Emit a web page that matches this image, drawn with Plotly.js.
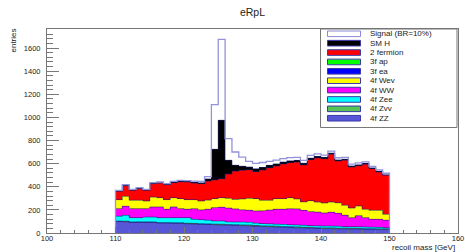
<!DOCTYPE html>
<html><head><meta charset="utf-8">
<script src="https://cdn.plot.ly/plotly-3.0.1.min.js"></script>
<style>html,body{margin:0;padding:0;background:#fff;}#chart{width:465px;height:252px;}</style>
</head><body><div id="chart"></div>
<script>
// ---- data (entries per 1 GeV bin, lower bin edges) ----
const binLow = [110,111,112,113,114,115,116,117,118,119,120,121,122,123,124,125,126,127,128,129,
                130,131,132,133,134,135,136,137,138,139,140,141,142,143,144,145,146,147,148,149];
const zz4f  = [100,98,92,92,92,92,86,86,84,84, 80,78,76,74,72,70,68,66,64,62,
               58,56,54,52,50,48,46,44,42,40, 38,38,36,36,34,34,32,32,30,30];
const zvv4f = [3,4,3,4,4,3,4,4,5,4, 4,5,4,5,5,6,5,6,6,7, 7,6,7,7,6,7,7,6,7,6, 6,7,6,6,7,6,6,5,6,6];
const zee4f = [42,51,38,37,42,43,43,43,44,45, 49,35,36,31,27,28,23,23,25,23,
               20,20,19,17,18,17,17,16,15,16, 16,15,16,14,14,15,14,13,12,10];
const ww4f  = [66,78,78,78,73,87,92,72,92,78, 72,92,84,95,116,118,119,113,105,104,
               105,110,118,129,131,138,138,129,121,118, 113,119,112,97,78,95,81,68,70,64];
const wev4f = [78,86,72,72,66,86,81,84,81,87, 84,79,77,80,78,84,85,82,95,104,
               108,91,85,93,93,96,87,75,95,88, 87,89,92,87,83,84,72,78,78,52];
const ea3f  = [0,0,0,0,0,0,0,0,0,0, 0,0,0,0,0,0,0,0,0,0, 0,0,0,0,0,0,0,0,0,0, 0,0,0,0,0,0,0,0,0,0];
const ap3f  = [0,0,0,0,0,0,0,0,0,0, 0,0,0,0,0,0,0,0,0,0, 0,0,0,0,0,0,0,0,0,0, 0,0,0,0,0,0,0,0,0,0];
const fermion2 = [72,93,86,101,92,116,127,129,130,146, 152,143,150,163,162,164,210,245,247,248,
                  234,262,282,282,300,304,319,320,355,382, 383,413,361,389,355,349,389,361,332,337];
const smH   = [2,2,2,2,2,3,3,3,3,4, 5,6,8,20,264,505,119,51,35,23,
               25,22,20,18,16,15,14,13,12,12, 11,10,10,9,9,8,8,7,7,6];
const signal = [6,6,6,6,6,6,7,7,7,8, 8,10,12,20,386,700,188,115,80,49,
                45,43,35,32,30,28,26,25,24,22, 20,18,18,16,16,15,14,13,12,12];

const legendLabels = ['Signal (BR=10%)','SM H','2 fermion','3f ap','3f ea','4f Wev','4f WW','4f Zee','4f Zvv','4f ZZ'];
const xTitle = 'recoil mass [GeV]';
const yTitle = 'entries';
const chartTitle = 'eRpL';

// ---- styling ----
const stackOrder = [
  {label:'4f ZZ', y:zz4f, color:'#5656d6'},
  {label:'4f Zvv', y:zvv4f, color:'#55c455'},
  {label:'4f Zee', y:zee4f, color:'#00ffff'},
  {label:'4f WW', y:ww4f, color:'#ff00ff'},
  {label:'4f Wev', y:wev4f, color:'#ffff00'},
  {label:'3f ea', y:ea3f, color:'#0000ff'},
  {label:'3f ap', y:ap3f, color:'#00ff00'},
  {label:'2 fermion', y:fermion2, color:'#ff0000'},
  {label:'SM H', y:smH, color:'#000000'},
  {label:'Signal (BR=10%)', y:signal, color:'#ffffff'}
];
const centers = binLow.map(b => b + 0.5);
const traces = [];
stackOrder.forEach(s => {
  traces.push({type:'bar', x:centers, y:s.y, width:1, name:s.label,
    marker:{color:s.color, line:{width:0}}, hoverinfo:'skip'});
});
// step outlines of each cumulative layer
let cum = binLow.map(() => 0);
stackOrder.forEach((s, k) => {
  cum = cum.map((c, i) => c + s.y[i]);
  if (s.y.every(v => v === 0)) return;
  const xs = [binLow[0]], ys = [0];
  binLow.forEach((b, i) => { xs.push(b); ys.push(cum[i]); });
  const last = binLow.length - 1;
  xs.push(binLow[last] + 1); ys.push(cum[last]);
  xs.push(binLow[last] + 1); ys.push(0);
  const isSig = k === stackOrder.length - 1;
  traces.push({type:'scatter', mode:'lines', x:xs, y:ys, hoverinfo:'skip',
    line:{shape:'hv', width:isSig ? 1.3 : 0.8, color:isSig ? '#9393dc' : 'rgba(30,30,110,0.75)'}});
});

// pixel -> paper helpers (plot area 47..458 x 29..233)
const L = 47, R = 458, T = 29, B = 233;
const px = p => (p - L) / (R - L);
const py = p => (B - p) / (B - T);

const shapes = [], annotations = [];
// legend box
shapes.push({type:'rect', xref:'paper', yref:'paper', x0:px(320.5), x1:px(457), y0:py(127.5), y1:py(29),
  fillcolor:'#ffffff', line:{color:'#777', width:1}, layer:'above'});
const legendColors = ['#ffffff','#000000','#ff0000','#00ff00','#0000ff','#ffff00','#ff00ff','#00ffff','#55c455','#5656d6'];
legendLabels.forEach((lab, i) => {
  const cy = 33.8 + i * 9.38;
  shapes.push({type:'rect', xref:'paper', yref:'paper', x0:px(327.5), x1:px(360.5), y0:py(cy + 2.8), y1:py(cy - 2.8),
    fillcolor:legendColors[i], line:{color: i === 0 ? '#8a8ad8' : '#3a3aa8', width:1}, layer:'above'});
  annotations.push({xref:'paper', yref:'paper', x:px(368), y:py(cy), xanchor:'left', yanchor:'middle',
    text:lab, showarrow:false, font:{family:'Liberation Sans, Arial, sans-serif', size:8, color:'#222'}});
});
annotations.push({xref:'paper', yref:'paper', x:px(457), y:py(247.8), xanchor:'right', yanchor:'middle',
  text:xTitle, showarrow:false, font:{family:'Liberation Sans, Arial, sans-serif', size:8, color:'#222'}});
annotations.push({xref:'paper', yref:'paper', x:px(12.5), y:py(41), xanchor:'center', yanchor:'middle',
  text:yTitle, textangle:-90, showarrow:false, font:{family:'Liberation Sans, Arial, sans-serif', size:8, color:'#222'}});

const axisFont = {family:'Liberation Sans, Arial, sans-serif', size:7.5, color:'#222'};
const layout = {
  width:465, height:252, margin:{l:L, r:465-R, t:T, b:252-B},
  paper_bgcolor:'#fff', plot_bgcolor:'#fff', showlegend:false,
  barmode:'stack', bargap:0,
  title:{text:chartTitle, xref:'paper', x:0.5, xanchor:'center', yref:'container', y:1-12/252, yanchor:'middle',
    font:{family:'Liberation Sans, Arial, sans-serif', size:10.5, color:'#222'}},
  xaxis:{range:[100,160], tick0:100, dtick:10, ticks:'inside', ticklen:6, tickwidth:1, tickcolor:'#777',
    showline:true, linecolor:'#777', linewidth:1, mirror:true, showgrid:false, zeroline:false,
    tickfont:axisFont, ticklabelstandoff:-2, minor:{ticks:'inside', ticklen:3, dtick:2, tickcolor:'#777', showgrid:false}},
  yaxis:{range:[0,1765], tick0:0, dtick:200, ticks:'inside', ticklen:12, tickwidth:1, tickcolor:'#777',
    showline:true, linecolor:'#777', linewidth:1, mirror:true, showgrid:false, zeroline:false,
    tickfont:axisFont, ticklabelstandoff:4, minor:{ticks:'inside', ticklen:6, dtick:40, tickcolor:'#777', showgrid:false}},
  shapes:shapes, annotations:annotations
};
Plotly.newPlot('chart', traces, layout, {displayModeBar:false, staticPlot:true});
</script></body></html>
